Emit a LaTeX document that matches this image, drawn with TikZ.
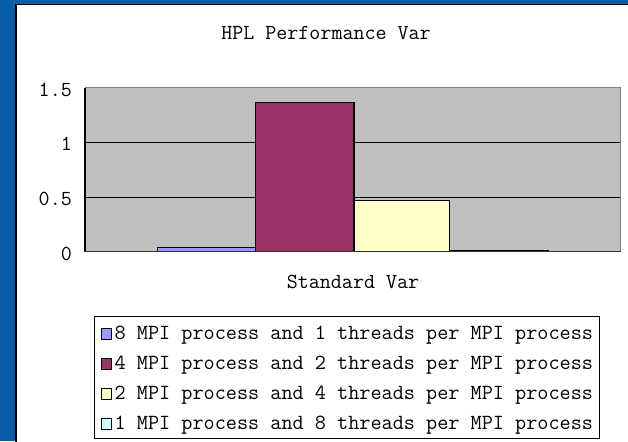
\documentclass[tikz,border=0pt]{standalone}
\usepackage{tikz}
\definecolor{slideblue}{RGB}{10,94,168}
\definecolor{plotgray}{RGB}{192,192,192}
\definecolor{framegray}{RGB}{128,128,128}
\definecolor{barblue}{RGB}{153,153,255}
\definecolor{barplum}{RGB}{153,51,102}
\definecolor{barivory}{RGB}{255,255,204}
\definecolor{barcyan}{RGB}{204,255,255}
\tikzset{
  lbl/.style={font=\fontsize{21.4}{24}\selectfont\ttfamily, inner sep=0pt},
  leg/.style={font=\fontsize{21.6}{24}\selectfont\ttfamily, inner sep=0pt},
  bar/.style={draw=black, line width=1.3pt},
  swatch/.style={draw=black, line width=1.2pt, minimum width=10.5pt, minimum height=10.5pt, inner sep=0pt},
}
\begin{document}
\begin{tikzpicture}[x=1pt,y=-1pt]
  % background and white panel
  \fill[slideblue] (0,0) rectangle (628,441);
  \useasboundingbox (0,0) rectangle (628,441);
  \fill[white] (16,4.7) rectangle (629,442);
  \draw[black, line width=1.4pt] (16,442) -- (16,4.7) -- (629,4.7);

  % title
  \node[lbl] (title) at (326,33) {HPL Performance Var};

  % plot area: zero at 251.7, 109.3 units per 1.0
  \fill[plotgray] (85,87.7) rectangle (620.7,251.7);
  \draw[black, line width=0.9pt] (85,142.4) -- (620.7,142.4);
  \draw[black, line width=0.9pt] (85,197.0) -- (620.7,197.0);
  \draw[framegray, line width=1.2pt] (85,87.7) -- (620.7,87.7) -- (620.7,251.7);

  % bars
  \draw[bar, fill=barblue]  (157.5,247.3) rectangle (255.7,251.7);
  \draw[bar, fill=barplum]  (255.7,102.3) rectangle (354.0,251.7);
  \draw[bar, fill=barivory](354.0,200.7) rectangle (449.5,251.7);
  \draw[bar, fill=barcyan]  (449.5,250.3) rectangle (548.0,251.7);

  % axes
  \draw[black, line width=1.2pt] (85,87.7) -- (85,252.3);
  \draw[black!80, line width=1.4pt] (84.4,251.7) -- (621.3,251.7);

  % y tick labels
  \node[lbl, anchor=east] (y15) at (72,90)  {1.5};
  \node[lbl, anchor=east] (y10) at (72,144) {1};
  \node[lbl, anchor=east] (y05) at (72,199) {0.5};
  \node[lbl, anchor=east] (y00) at (72,254) {0};

  % category label
  \node[lbl] (cat) at (353,282) {Standard Var};

  % legend
  \draw[black, line width=0.9pt, fill=white] (94,316.5) rectangle (599,438.5);
  \node[swatch, fill=barblue]   (s1) at (106.5,334) {};
  \node[swatch, fill=barplum]   (s2) at (106.5,364) {};
  \node[swatch, fill=barivory]  (s3) at (106.5,394) {};
  \node[swatch, fill=barcyan]   (s4) at (106.5,424) {};
  \node[leg, anchor=west] (t1) at (114.5,335) {8 MPI process and 1 threads per MPI process};
  \node[leg, anchor=west] (t2) at (114.5,365) {4 MPI process and 2 threads per MPI process};
  \node[leg, anchor=west] (t3) at (114.5,395) {2 MPI process and 4 threads per MPI process};
  \node[leg, anchor=west] (t4) at (114.5,425) {1 MPI process and 8 threads per MPI process};
\end{tikzpicture}
\end{document}
